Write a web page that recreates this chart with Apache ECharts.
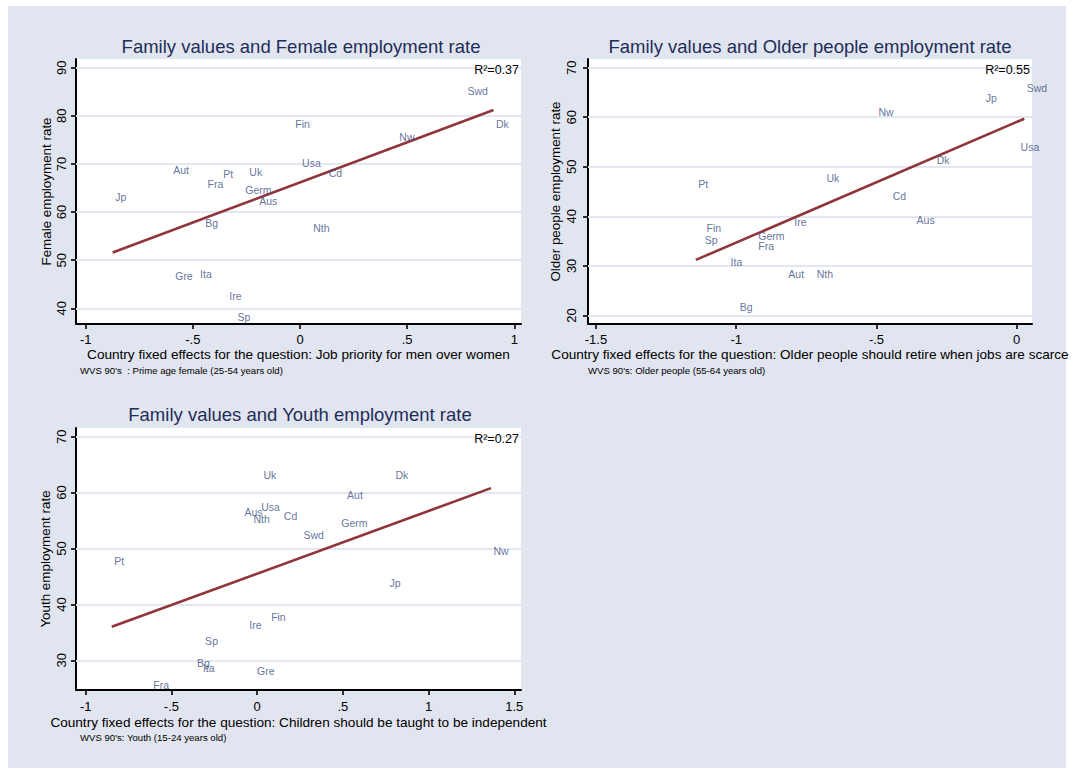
<!DOCTYPE html>
<html><head><meta charset="utf-8">
<script src="https://cdn.jsdelivr.net/npm/echarts@6/dist/echarts.min.js"></script>
<style>html,body{margin:0;padding:0;background:#fff}#c{width:1075px;height:771px}</style>
</head><body><div id="c"></div>
<script>
// ---------- Data ----------
const femCountries = ['Jp','Aut','Fra','Pt','Uk','Germ','Aus','Usa','Cd','Fin','Nw','Swd','Dk','Bg','Nth','Gre','Ita','Ire','Sp'];
const femX = [-0.874,-0.603,-0.443,-0.370,-0.248,-0.267,-0.202,-0.002,0.122,-0.034,0.452,0.770,0.903,-0.454,0.050,-0.594,-0.478,-0.342,-0.303];
const femY = [63.2,68.7,65.8,67.9,68.3,64.5,62.3,70.3,68.1,78.2,75.7,85.2,78.2,57.8,56.6,46.7,47.05,42.6,38.1];
const femFitX = [-0.874, 0.903];
const femFitY = [51.6, 81.2];
const femXTicks = [-1,-0.5,0,0.5,1];
const femYTicks = [40,50,60,70,80,90];

const oldCountries = ['Pt','Fin','Sp','Germ','Fra','Ita','Aut','Bg','Ire','Nth','Aus','Cd','Uk','Dk','Nw','Jp','Swd','Usa'];
const oldX = [-1.144,-1.115,-1.121,-0.930,-0.930,-1.029,-0.823,-0.996,-0.802,-0.722,-0.366,-0.451,-0.687,-0.294,-0.502,-0.119,0.027,0.005];
const oldY = [46.5,37.6,35.3,36.1,34.05,30.8,28.3,21.7,38.8,28.3,39.2,44.1,47.8,51.4,61.1,63.8,65.8,53.9];
const oldFitX = [-1.144, 0.027];
const oldFitY = [31.2, 59.7];
const oldXTicks = [-1.5,-1,-0.5,0];
const oldYTicks = [20,30,40,50,60,70];

const youCountries = ['Pt','Uk','Aus','Usa','Nth','Cd','Dk','Aut','Germ','Swd','Nw','Jp','Fin','Ire','Sp','Bg','Ita','Gre','Fra'];
const youX = [-0.848,0.022,-0.089,0.009,-0.036,0.141,0.792,0.510,0.476,0.256,1.364,0.757,0.067,-0.060,-0.318,-0.365,-0.331,-0.015,-0.620];
const youY = [47.7,63.1,56.6,57.4,55.3,55.9,63.1,59.5,54.5,52.4,49.6,43.8,37.7,36.3,33.4,29.5,28.7,28.1,25.6];
const youFitX = [-0.848, 1.364];
const youFitY = [36.0, 60.8];
const youXTicks = [-1,-0.5,0,0.5,1,1.5];
const youYTicks = [30,40,50,60,70];

// ---------- Styling / helpers ----------
const FF = 'Liberation Sans, Arial, Helvetica, sans-serif';
function fmt(v){ return String(+(+v).toFixed(2)).replace(/^(-?)0\./,'$1.'); }
function xAx(i,min,max,ticks,name,gap,margin){
  return {gridIndex:i,type:'value',min:min,max:max,name:name,nameLocation:'middle',nameGap:gap,
    nameTextStyle:{color:'#000',fontSize:13.6,fontFamily:FF},
    axisLine:{onZero:false,lineStyle:{color:'#000',width:2}},
    axisTick:{customValues:ticks,length:5,lineStyle:{color:'#000',width:1.6}},
    axisLabel:{customValues:ticks,formatter:fmt,color:'#000',fontSize:13,margin:margin,fontFamily:FF},
    splitLine:{show:false}};
}
function yAx(i,min,max,ticks,name,gap,margin){
  return {gridIndex:i,type:'value',min:min,max:max,name:name,nameLocation:'middle',nameGap:gap,
    nameTextStyle:{color:'#000',fontSize:13.4,fontFamily:FF},
    axisLine:{onZero:false,lineStyle:{color:'#000',width:2}},
    axisTick:{customValues:ticks,length:5,lineStyle:{color:'#000',width:1.6}},
    axisLabel:{customValues:ticks,formatter:fmt,rotate:90,color:'#000',fontSize:13,margin:margin,fontFamily:FF},
    splitLine:{show:false}};
}
function gridLines(i,yTicks){
  return {type:'scatter',xAxisIndex:i,yAxisIndex:i,data:[],silent:true,z:1,
    markLine:{z:1,silent:true,symbol:'none',label:{show:false},emphasis:{disabled:true},
      lineStyle:{color:'#e3e7f1',width:2,type:'solid'},
      data:yTicks.map(v=>({yAxis:v}))}};
}
function scatter(i,names,xs,ys){
  return {type:'scatter',xAxisIndex:i,yAxisIndex:i,symbolSize:1,itemStyle:{color:'rgba(0,0,0,0)'},
    data:names.map((n,k)=>({name:n,value:[xs[k],ys[k]]})),
    label:{show:true,position:'right',distance:2,formatter:p=>p.name,color:'#3a4e82',fontSize:10.5,fontFamily:FF,
      textBorderWidth:0},
    emphasis:{disabled:true},
    z:6};
}
function fit(i,xs,ys){
  return {type:'line',xAxisIndex:i,yAxisIndex:i,showSymbol:false,symbol:'none',
    data:xs.map((x,k)=>[x,ys[k]]),lineStyle:{color:'#90353b',width:2.6},emphasis:{disabled:true},z:4};
}
function txt(x,y,text,size,color,align){
  return {type:'text',x:x,y:y,z:10,style:{text:text,fill:color,font:size+'px '+FF,textAlign:align||'left',textVerticalAlign:'middle'}};
}

const chart = echarts.init(document.getElementById('c'),null,{renderer:'svg'});
chart.setOption({
  animation:false,
  backgroundColor:'#ffffff',
  grid:[
    {left:76,top:59,width:445,height:265,show:true,backgroundColor:'#ffffff',borderWidth:0},
    {left:588,top:59,width:444,height:265,show:true,backgroundColor:'#ffffff',borderWidth:0},
    {left:76,top:428,width:445,height:262,show:true,backgroundColor:'#ffffff',borderWidth:0}
  ],
  xAxis:[
    xAx(0,-1.0453,1.0313,femXTicks,'Country fixed effects for the question: Job priority for men over women',23.5,9),
    xAx(1,-1.5285,0.0546,oldXTicks,'Country fixed effects for the question: Older people should retire when jobs are scarce',23.5,9),
    xAx(2,-1.0566,1.5391,youXTicks,'Country fixed effects for the question: Children should be taught to be independent',25.5,10)
  ],
  yAxis:[
    yAx(0,36.74,91.81,femYTicks,'Female employment rate',23.5,8),
    yAx(1,18.27,71.75,oldYTicks,'Older people employment rate',26,10),
    yAx(2,24.69,71.56,youYTicks,'Youth employment rate',24.5,8)
  ],
  series:[
    gridLines(0,femYTicks), fit(0,femFitX,femFitY), scatter(0,femCountries,femX,femY),
    gridLines(1,oldYTicks), fit(1,oldFitX,oldFitY), scatter(1,oldCountries,oldX,oldY),
    gridLines(2,youYTicks), fit(2,youFitX,youFitY), scatter(2,youCountries,youX,youY)
  ],
  graphic:[
    {type:'rect',z:-100,silent:true,shape:{x:8,y:6,width:1058,height:762},style:{fill:'#e1e5ef'}},
    txt(301,46,'Family values and Female employment rate',18.5,'#1e2d5a','center'),
    txt(810,46,'Family values and Older people employment rate',18.5,'#1e2d5a','center'),
    txt(300,414,'Family values and Youth employment rate',18.5,'#1e2d5a','center'),
    txt(519,69.5,'R²=0.37',12.5,'#000','right'),
    txt(1030,69.5,'R²=0.55',12.5,'#000','right'),
    txt(519,438.5,'R²=0.27',12.5,'#000','right'),
    txt(80,370,"WVS 90's\u00a0 : Prime age female (25-54 years old)",9.6,'#000','left'),
    txt(588,370,"WVS 90's: Older people (55-64 years old)",9.6,'#000','left'),
    txt(80,737,"WVS 90's: Youth (15-24 years old)",9.6,'#000','left')
  ]
});
</script></body></html>
